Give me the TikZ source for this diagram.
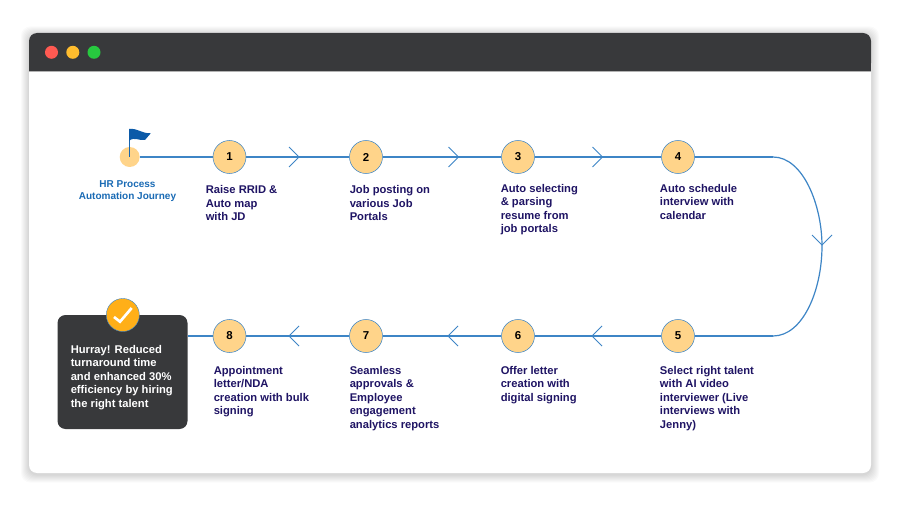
\documentclass[tikz,border=0pt]{standalone}
\usepackage{fontspec}
\setmainfont{Liberation Sans}
\definecolor{darkbar}{HTML}{38393B}
\definecolor{flow}{HTML}{3D85C6}
\definecolor{peach}{HTML}{FFD48A}
\definecolor{navy}{HTML}{1F1464}
\definecolor{flagblue}{HTML}{0B5AA8}
\definecolor{labelblue}{HTML}{1A6BB5}
\definecolor{amber}{HTML}{FFAF18}
\tikzset{
  flowline/.style={draw=flow,line width=1.2pt},
  chev/.style={draw=flow,line width=0.7pt},
  stepnode/.style={circle,draw=flow,line width=0.4pt,fill=peach,minimum size=24.75pt,inner sep=0pt,font=\fontsize{8.6pt}{10pt}\selectfont\bfseries,text=black},
  steplabel/.style={anchor=north west,inner sep=0pt,align=left,text=navy,font=\fontsize{8.4pt}{10.1pt}\selectfont\bfseries},
}
\begin{document}
\begin{tikzpicture}[x=0.75pt,y=-0.75pt]
\useasboundingbox (0,0) rectangle (900,506);
\fill[white] (0,0) rectangle (900,506);
% soft window shadow
\foreach \s in {8,7,6,5,4,3,2,1}{
  \fill[black,opacity=0.018,rounded corners=7pt] ({29-\s},{33-\s+1.5}) rectangle ({871+\s},{473+\s+1.5});
}
% window
\fill[white,rounded corners=6pt] (29,33) rectangle (871,473);
\fill[darkbar,rounded corners=6pt] (29,71) -- (29,33) -- (871,33) -- (871,71) -- cycle;
\fill[darkbar] (29,60) rectangle (871,71);
\fill[fill=white!70!black] (29,71) rectangle (871,71.6);
\node[circle,fill={rgb,255:red,255;green,90;blue,82},minimum size=9.75pt,inner sep=0pt] (dotr) at (51.5,52.3) {};
\node[circle,fill={rgb,255:red,255;green,189;blue,46},minimum size=9.75pt,inner sep=0pt] (doty) at (72.8,52.3) {};
\node[circle,fill={rgb,255:red,39;green,201;blue,63},minimum size=9.75pt,inner sep=0pt] (dotg) at (94,52.3) {};
% steps
\node[circle,fill=peach,minimum size=15pt,inner sep=0pt] (start) at (129.7,157) {};
\node[stepnode] (s1) at (229.5,157) {1};
\node[stepnode] (s2) at (366,157) {2};
\node[stepnode] (s3) at (518,157) {3};
\node[stepnode] (s4) at (678,157) {4};
\node[stepnode] (s5) at (678,336) {5};
\node[stepnode] (s6) at (518,336) {6};
\node[stepnode] (s7) at (366,336) {7};
\node[stepnode] (s8) at (229.5,336) {8};
% result card
\node[rounded corners=6pt,fill=darkbar,minimum width=97.5pt,minimum height=85.5pt,inner sep=0pt] (card) at (122.5,372) {};
\node[anchor=north west,inner sep=0pt,align=left,text=white,font=\fontsize{8.4pt}{10.1pt}\selectfont\bfseries] (cardtext) at (70.5,345) {Hurray! Reduced\\turnaround time\\and enhanced 30\%\\efficiency by hiring\\the right talent};
\node[circle,draw=flow,line width=0.3pt,fill=amber,minimum size=24.75pt,inner sep=0pt] (check) at (122.8,315) {};
\draw[white,line width=2pt,line join=miter] ([shift={(-8.8,2)}]check.center) -- ([shift={(-2.8,6.7)}]check.center) -- ([shift={(8.9,-7)}]check.center);
% connectors
\draw[flowline] (start) -- (s1);
\draw[flowline] (s1) -- (s2);
\draw[flowline] (s2) -- (s3);
\draw[flowline] (s3) -- (s4);
\coordinate (curvetop) at (773,157);
\coordinate (curvemid) at (822,246);
\coordinate (curvebot) at (773,336);
\draw[flowline] (s4) -- (curvetop);
\draw[draw=flow,line width=0.9pt] (curvetop) .. controls (803,157) and (822,205) .. (curvemid) .. controls (822,290) and (803,336) .. (curvebot);
\draw[flowline] (curvebot) -- (s5);
\draw[flowline] (s5) -- (s6);
\draw[flowline] (s6) -- (s7);
\draw[flowline] (s7) -- (s8);
\draw[flowline] (s8) -- (s8 -| card.east);
% chevrons
\coordinate (c1) at (299,157);
\coordinate (c2) at (458.5,157);
\coordinate (c3) at (602.5,157);
\coordinate (c4) at (822,245);
\coordinate (c5) at (592,336);
\coordinate (c6) at (448,336);
\coordinate (c7) at (289,336);
\foreach \c in {c1,c2,c3}{\draw[chev] ([shift={(-10,-10)}]\c) -- (\c) -- ([shift={(-10,10)}]\c);}
\foreach \c in {c5,c6,c7}{\draw[chev] ([shift={(10,-10)}]\c) -- (\c) -- ([shift={(10,10)}]\c);}
\draw[chev] ([shift={(-10,-10)}]c4) -- (c4) -- ([shift={(10,-10)}]c4);
% flag
\coordinate (pole) at (129.5,156.7);
\draw[flagblue!75!flow,line width=1pt] (pole) -- (129.5,132);
\fill[flagblue] (129,129) .. controls (138,128) and (141,133.5) .. (150.8,133.3) .. controls (148.5,135.5) and (147,138) .. (145,140) .. controls (139,141) and (135,136.5) .. (129,140.7) -- cycle;
% labels
\node[anchor=north,inner sep=0pt,align=center,text=labelblue,font=\fontsize{7.5pt}{9.4pt}\selectfont\bfseries] (startlabel) at (127.5,180) {HR Process\\Automation Journey};
\node[steplabel] (l1) at (205.5,185.2) {Raise RRID \&\\Auto map\\with JD};
\node[steplabel] (l2) at (349.5,185.2) {Job posting on\\various Job\\Portals};
\node[steplabel] (l3) at (500.5,184) {Auto selecting\\\& parsing\\resume from\\job portals};
\node[steplabel] (l4) at (659.7,184) {Auto schedule\\interview with\\calendar};
\node[steplabel] (l5) at (659.7,366) {Select right talent\\with AI video\\interviewer (Live\\interviews with\\Jenny)};
\node[steplabel] (l6) at (500.5,366) {Offer letter\\creation with\\digital signing};
\node[steplabel] (l7) at (349.5,366) {Seamless\\approvals \&\\Employee\\engagement\\analytics reports};
\node[steplabel] (l8) at (213.5,366) {Appointment\\letter/NDA\\creation with bulk\\signing};
\end{tikzpicture}
\end{document}
